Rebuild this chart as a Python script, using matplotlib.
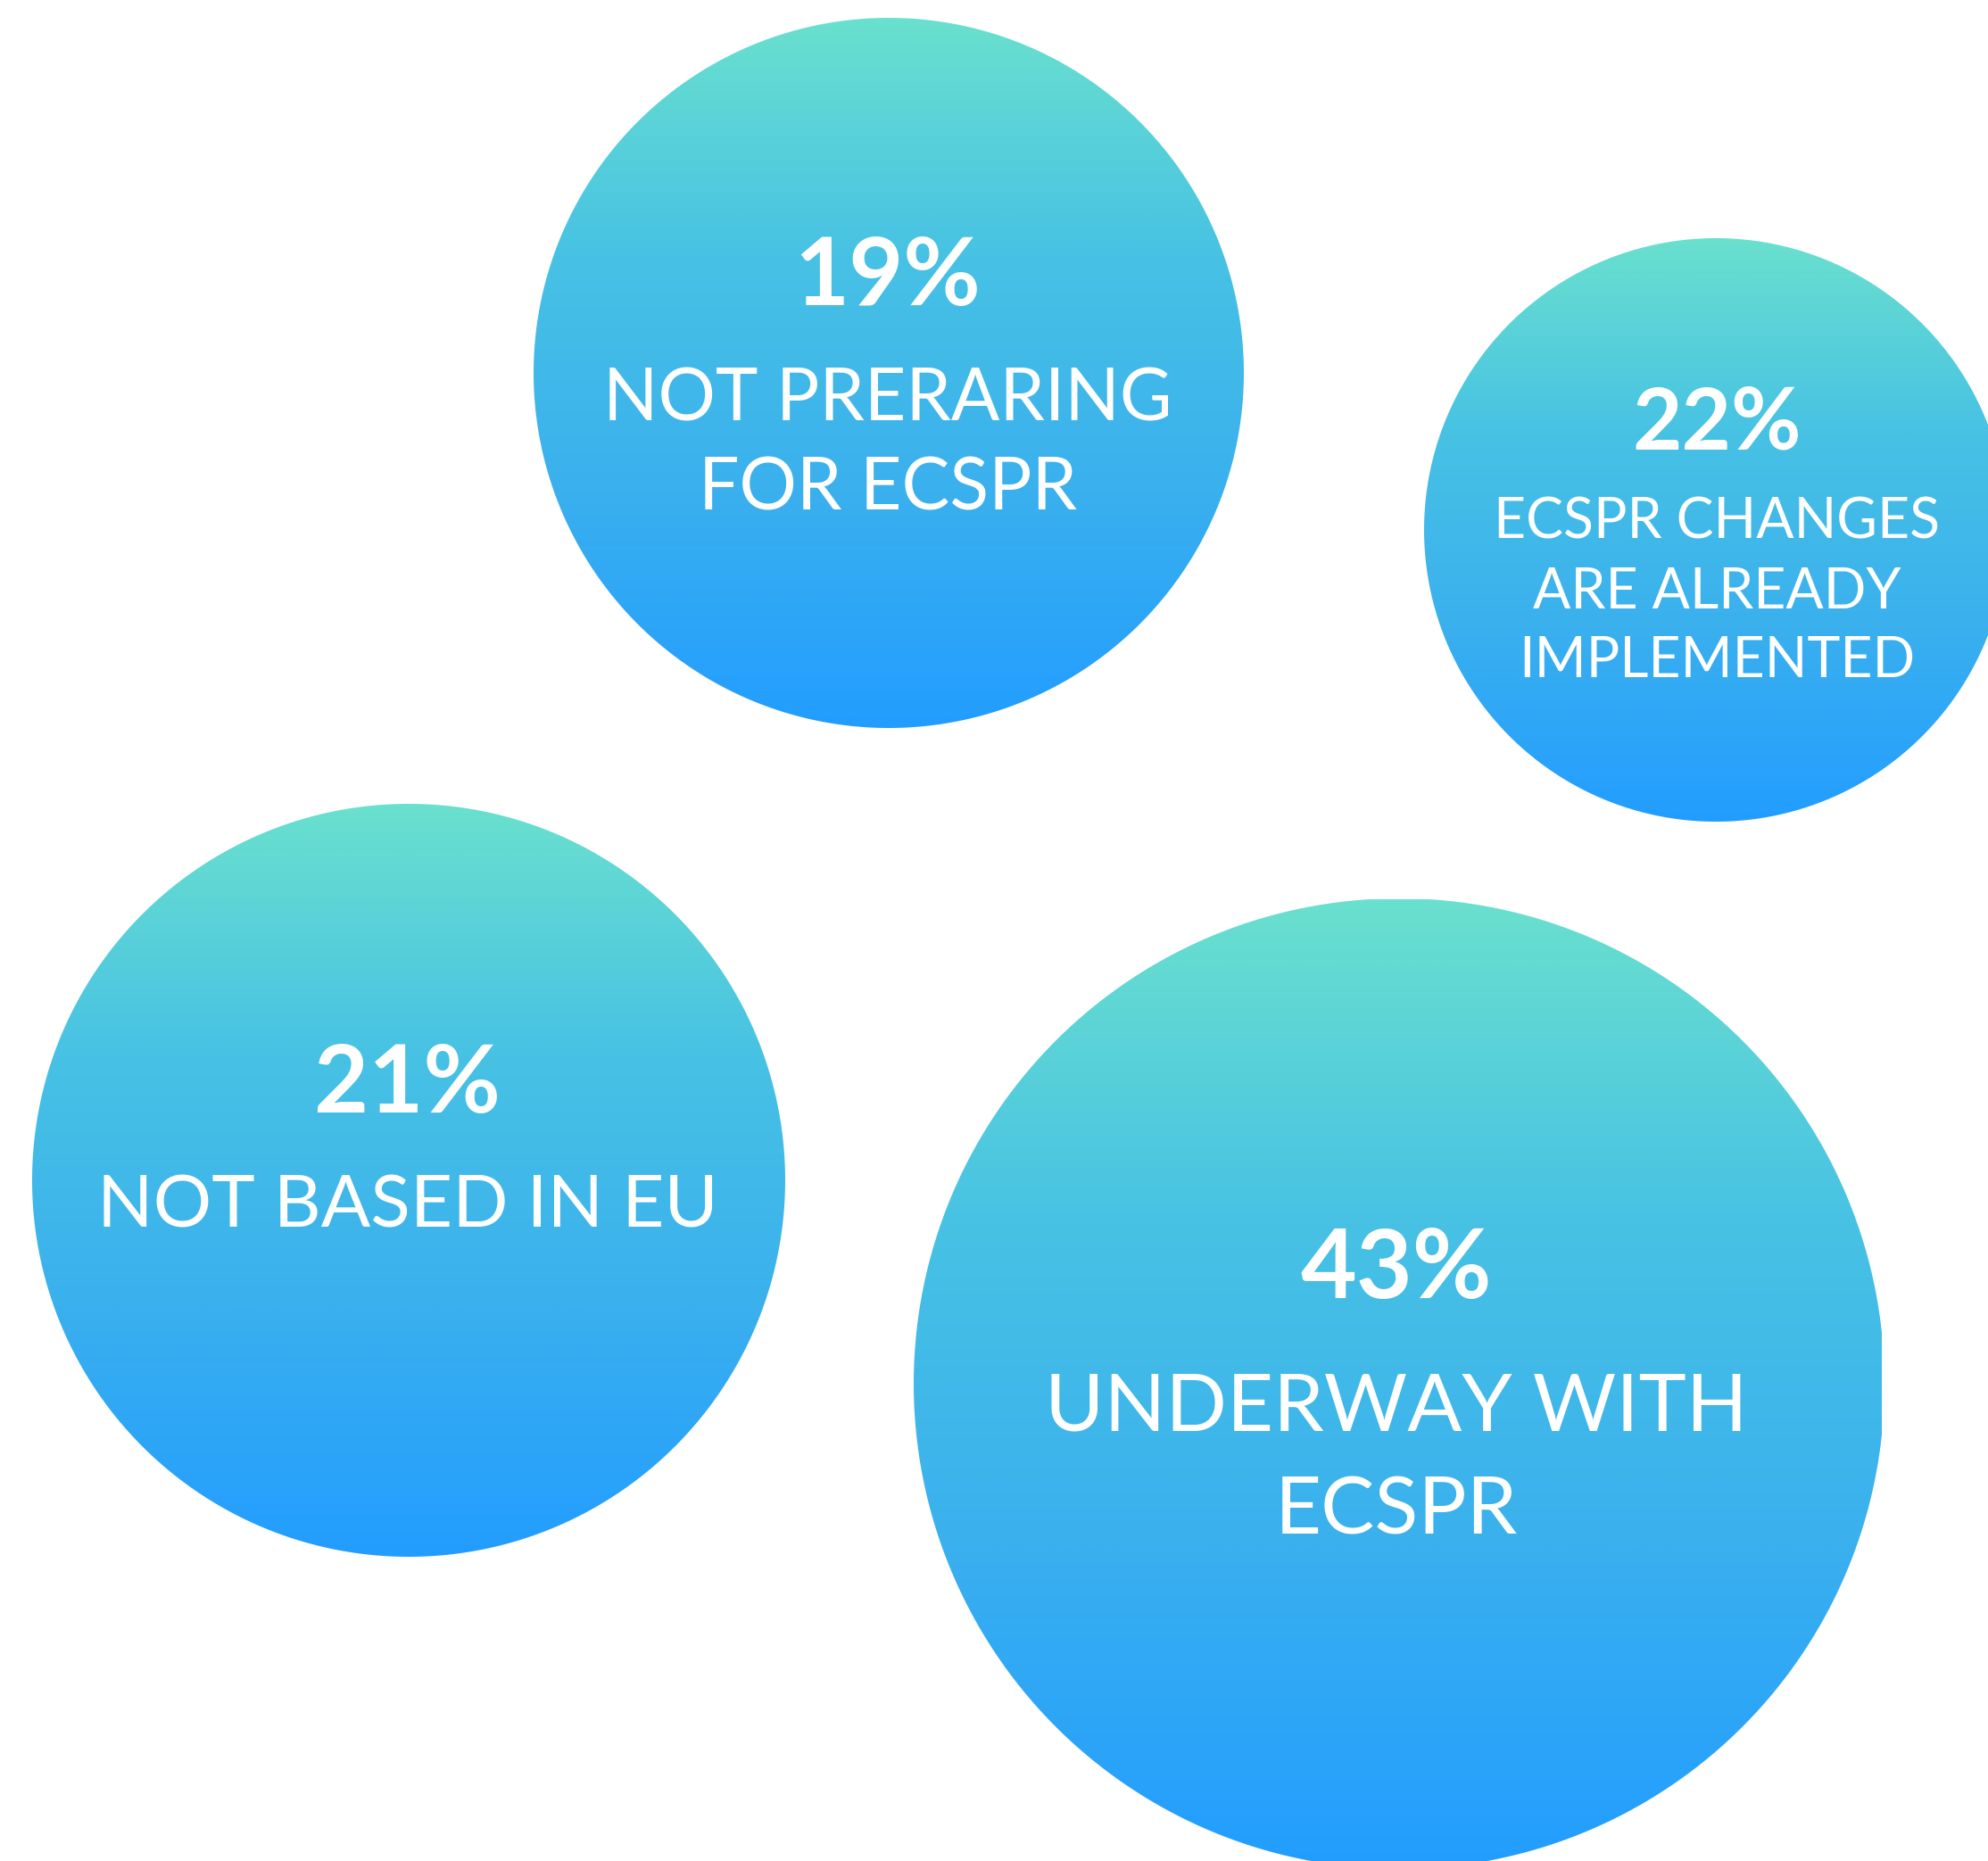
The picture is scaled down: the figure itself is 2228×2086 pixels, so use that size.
import numpy as np
import matplotlib.pyplot as plt
from matplotlib.patches import PathPatch
from matplotlib.path import Path
from matplotlib.colors import LinearSegmentedColormap


W, H = 2228, 2086

percents = [19, 22, 21, 43]
labels = [
    ["NOT PRERARING", "FOR ECSPR"],
    ["ECSPR CHANGES", "ARE ALREADY", "IMPLEMENTED"],
    ["NOT BASED IN EU"],
    ["UNDERWAY WITH", "ECSPR"],
]

# bubble layout in pixel units: centre, radius, optional crop (xmax, ymin)
centers = [(996, 418), (1923, 594), (458, 1323), (1568, 1551)]
radii = [398, 327, 422, 544]
crops = [None, None, None, (2109, 1008)]

# text placement
text_x = [995, 1924, 457, 1565]
pct_baselines = [342, 503, 1247, 1455]
pct_sizes = [76, 69, 76, 78]
label_baselines = [[471, 572], [604, 682, 759], [1375], [1604, 1719]]
label_sizes = [58, 45, 59, 65]

bubble_cmap = LinearSegmentedColormap.from_list(
    "bubble", ["#6ae0ce", "#47c2e4", "#3ab0ee", "#229dff"])


def bubble_path(cx, cy, r, crop):
    t = np.linspace(0, 2 * np.pi, 720)
    x = cx + r * np.cos(t)
    y = cy + r * np.sin(t)
    if crop is not None:
        # flatten the bubble where it runs into the artboard edge
        x = np.minimum(x, crop[0])
        y = np.maximum(y, crop[1])
    return Path(np.column_stack([x, y]), closed=True)


def main():
    fig = plt.figure(figsize=(W / 100, H / 100), dpi=100)
    ax = fig.add_axes([0, 0, 1, 1])
    ax.set_xlim(0, W)
    ax.set_ylim(H, 0)
    ax.axis('off')

    grad = np.linspace(0, 1, 512).reshape(-1, 1)

    for i, pct in enumerate(percents):
        cx, cy = centers[i]
        r = radii[i]
        patch = PathPatch(bubble_path(cx, cy, r, crops[i]),
                          facecolor='none', edgecolor='none')
        ax.add_patch(patch)
        im = ax.imshow(grad, cmap=bubble_cmap, aspect='auto',
                       interpolation='bilinear', origin='upper',
                       extent=(cx - r, cx + r, cy + r, cy - r))
        im.set_clip_path(patch)

        ax.text(text_x[i], pct_baselines[i], f"{pct}%", color='white',
                fontsize=pct_sizes[i], fontweight='bold', family='Lato',
                ha='center', va='baseline')
        for line, y in zip(labels[i], label_baselines[i]):
            ax.text(text_x[i], y, line, color='white',
                    fontsize=label_sizes[i], family='Lato',
                    ha='center', va='baseline')

    ax.set_xlim(0, W)
    ax.set_ylim(H, 0)
    fig.savefig('out.png', dpi=100, facecolor='white')


if __name__ == "__main__":
    main()
